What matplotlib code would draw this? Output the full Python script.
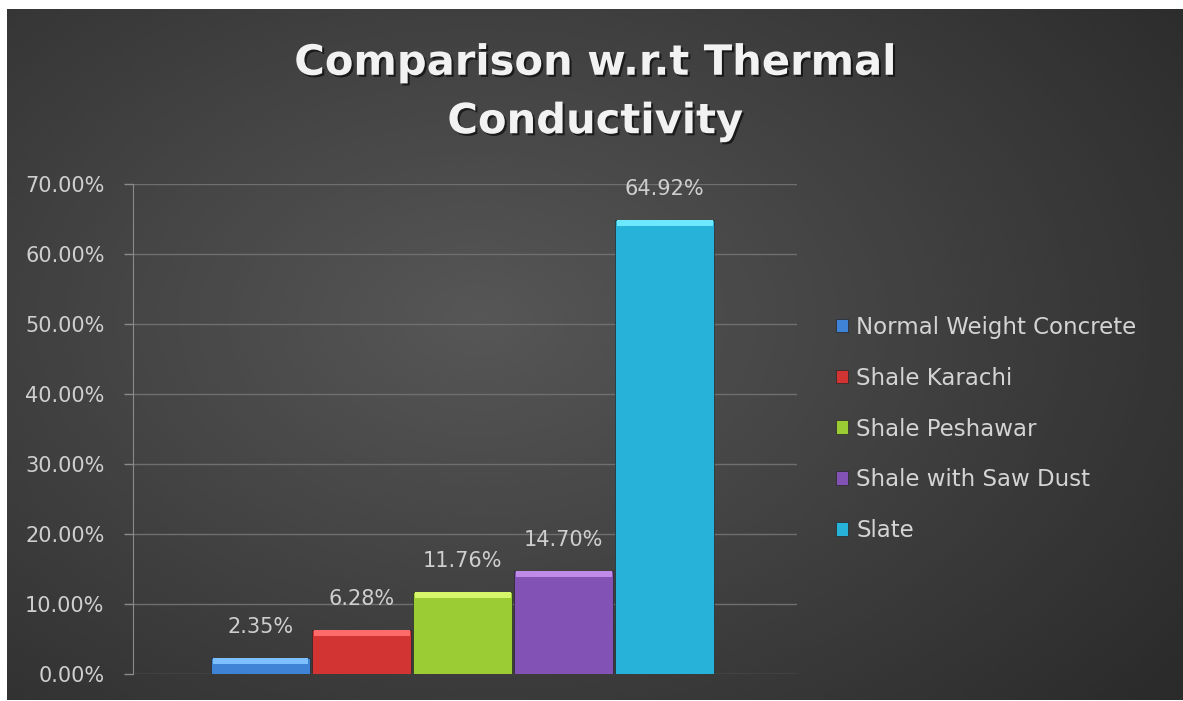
import matplotlib.pyplot as plt
import matplotlib.patheffects as pe
import numpy as np
from matplotlib.patches import Patch

materials = ['Normal Weight Concrete', 'Shale Karachi', 'Shale Peshawar',
             'Shale with Saw Dust', 'Slate']
conductivity = [2.35, 6.28, 11.76, 14.70, 64.92]
colors = ['#3f83d6', '#d23434', '#9ccc34', '#8352b5', '#27b2d9']
tops = ['#7cc0ff', '#ff6a6a', '#d6f56a', '#c08ae8', '#6ee8ff']
yticks = [0, 10, 20, 30, 40, 50, 60, 70]

W, H = 1183, 701
fig = plt.figure(figsize=(W / 100, H / 100), dpi=100, facecolor='white')

# dark backdrop with a soft radial glow
bg = fig.add_axes([7 / W, 1 / H, 1 - 7 / W, (H - 10) / H])
gx, gy = np.meshgrid(np.linspace(0, 1, 400), np.linspace(0, 1, 240))
r = np.sqrt(((gx - 0.40) / 0.75) ** 2 + ((gy - 0.45) / 0.85) ** 2)
bg.imshow(0.34 - 0.17 * np.clip(r, 0, 1), cmap='gray', vmin=0, vmax=1,
          aspect='auto', extent=[0, 1, 0, 1], interpolation='bicubic')
bg.set_axis_off()

ax = fig.add_axes([133 / W, 27 / H, (797 - 133) / W, (674 - 184) / H])
ax.patch.set_alpha(0)
x = np.arange(len(materials))
bars = ax.bar(x, conductivity, width=0.98, color=colors, edgecolor='#262626',
              linewidth=0.5, zorder=3)
# lighter bevel on top of each bar
for xi, v, c in zip(x, conductivity, tops):
    ax.bar(xi, 0.9, bottom=v - 0.9, width=0.95, color=c, linewidth=0, zorder=4)

for xi, v in zip(x, conductivity):
    ax.text(xi, v + 3.0, '{:.2f}%'.format(v), ha='center', va='bottom',
            color='#cfcfcf', fontsize=15, zorder=5)

ax.set_xlim(-1.262, 5.31)
ax.set_ylim(0, 70)
ax.set_yticks(yticks)
ax.set_yticklabels(['{:.2f}%'.format(t) for t in yticks], color='#cfcfcf', fontsize=15)
ax.set_xticks([])
ax.tick_params(axis='y', length=6.5, color='#8a8a8a', width=1, pad=14)
ax.yaxis.grid(True, color='#6f6f6f', linewidth=1, zorder=0)
for s in ['top', 'right', 'bottom']:
    ax.spines[s].set_visible(False)
ax.spines['left'].set_color('#8a8a8a')

handles = [Patch(facecolor=c, edgecolor='#262626', linewidth=0.5) for c in colors]
fig.legend(handles, materials, loc='center left', bbox_to_anchor=(815 / W, 1 - 429 / H),
           frameon=False, fontsize=16.5, labelcolor='#d4d4d4', handlelength=0.55,
           handleheight=0.55, handletextpad=0.35, labelspacing=1.22)

fig.text(0.503, 1 - 92 / H, 'Comparison w.r.t Thermal\nConductivity', ha='center',
         va='center', color='#f2f2f2', fontsize=30, fontweight='bold',
         linespacing=1.5,
         path_effects=[pe.withSimplePatchShadow(offset=(1.5, -1.5), shadow_rgbFace='black',
                                                alpha=0.6)])

fig.savefig('out.png', dpi=100, facecolor='white')
